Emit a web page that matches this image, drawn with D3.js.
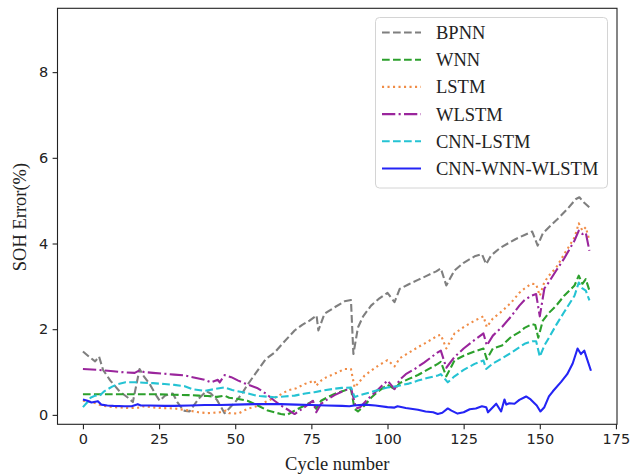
<!DOCTYPE html>
<html>
<head>
<meta charset="utf-8">
<script src="https://cdn.jsdelivr.net/npm/d3@7"></script>
<style>
  html, body { margin: 0; padding: 0; background: #fff; }
  svg { display: block; }
</style>
</head>
<body>
<svg id="chart" width="630" height="474"></svg>
<script>
// SOH estimation error per cycle for each model: [cycle, error %]
const bpnn = [[0,1.48],[2,1.36],[4,1.25],[5.3,1.36],[6.6,1.05],[9,0.8],[12,0.55],[14.8,0.4],[16.4,0.3],[18.6,1.07],[20,0.9],[21.9,0.72],[24.1,0.45],[25.2,0.33],[27,0.45],[29.5,0.5],[31,0.3],[33,0.1],[35,0.08],[38,0.38],[40.5,0.55],[42,0.5],[44,0.35],[46.5,0.04],[48,0.15],[50,0.3],[52,0.47],[54,0.7],[56.5,0.95],[60,1.3],[63,1.46],[66,1.7],[69.5,1.97],[72,2.1],[74.4,2.2],[76.7,2.32],[77.3,1.97],[79.3,2.36],[82.6,2.51],[85.9,2.65],[88,2.68],[88.8,1.42],[90.3,2.04],[92,2.3],[94.6,2.55],[97,2.7],[100,2.85],[102.3,2.63],[104,2.94],[107,3.05],[110,3.15],[113,3.25],[116,3.35],[117.5,3.42],[119.3,3.02],[122,3.37],[125,3.55],[128.6,3.7],[131,3.75],[132.4,3.52],[134,3.72],[137,3.9],[139.5,4.0],[142,4.1],[145,4.2],[147.5,4.28],[149.3,3.95],[151,4.24],[154,4.45],[156.4,4.61],[159,4.8],[161.9,5.04],[163,5.08],[164.6,4.95],[166.3,4.84]];
const wnn = [[0,0.48],[5,0.48],[10,0.48],[15,0.48],[20,0.48],[25,0.48],[30,0.47],[35,0.46],[38,0.45],[41,0.44],[44,0.42],[46.5,0.45],[48,0.4],[51,0.37],[54,0.33],[57.4,0.22],[60.7,0.1],[65,0.02],[67,0.0],[69.5,0.1],[72.8,0.22],[75.5,0.32],[76.6,0.14],[78.2,0.33],[80,0.4],[82.6,0.49],[85.9,0.57],[87.5,0.62],[88,0.6],[89.2,0.14],[90.3,0.08],[92.5,0.22],[94.6,0.4],[97,0.55],[100,0.7],[102.3,0.6],[104,0.74],[107,0.84],[110,0.93],[113,1.05],[116.5,1.19],[117.5,1.24],[119.3,0.9],[122,1.27],[125,1.38],[128.6,1.48],[131.5,1.55],[132.6,1.3],[134.6,1.55],[137.6,1.62],[140.6,1.82],[143.3,1.93],[145,2.03],[147.5,2.12],[148.5,2.1],[149.5,1.8],[151,2.2],[153,2.38],[155.4,2.55],[158,2.78],[161.4,3.02],[162.8,3.25],[164,3.06],[165.1,3.17],[166.3,2.9]];
const lstm = [[0,0.33],[3,0.3],[6,0.22],[10,0.18],[15,0.16],[19,0.17],[20,0.2],[25,0.16],[30,0.15],[35,0.1],[38,0.06],[41,0.04],[45,0.06],[47,0.1],[48,0.04],[51,0.03],[54,0.14],[57,0.2],[60.7,0.33],[63,0.4],[67.3,0.57],[70,0.62],[72.8,0.72],[76,0.8],[76.6,0.68],[78.2,0.8],[80,0.88],[82.6,0.96],[85.9,1.07],[88,1.07],[89.2,0.64],[92.5,0.92],[95,1.05],[97,1.15],[100,1.28],[102.3,1.13],[104,1.32],[107,1.45],[110,1.58],[113,1.7],[116.5,1.85],[117.5,1.87],[119.3,1.55],[122,1.9],[125,2.05],[128.6,2.2],[131.5,2.3],[132.6,2.05],[134.6,2.25],[137.6,2.42],[140.6,2.62],[143.3,2.85],[145,2.95],[147.2,3.06],[148.8,3.05],[150,2.78],[151.5,3.1],[153,3.25],[155.4,3.44],[158,3.75],[161.4,4.14],[162.8,4.47],[164,4.3],[165.1,4.38],[166.3,4.07]];
const wlstm = [[0,1.07],[5,1.05],[10,1.02],[13.7,0.99],[17,0.98],[18.6,1.04],[20,1.0],[23,0.98],[26.8,0.96],[30,0.94],[33.4,0.92],[36,0.88],[39.9,0.82],[42,0.76],[44.3,0.82],[44.9,0.76],[46.5,0.93],[48.7,0.88],[51,0.8],[53,0.74],[57.4,0.62],[60,0.5],[62.9,0.33],[65,0.22],[67.3,0.12],[69.5,0.02],[72.8,0.18],[75.5,0.33],[76.6,0.06],[78.2,0.26],[80,0.35],[82.6,0.46],[85.9,0.57],[88,0.63],[89.7,0.15],[91,0.18],[94,0.4],[97,0.6],[100,0.8],[102.3,0.6],[104,0.82],[106,0.95],[108.9,1.07],[112,1.22],[116.5,1.46],[117.5,1.5],[119.3,1.1],[122,1.35],[125,1.55],[128.6,1.75],[131.5,1.9],[132.6,1.62],[134.6,1.85],[137.6,2.05],[140.6,2.3],[143.3,2.55],[145,2.68],[147.2,2.78],[148.8,2.82],[150,2.3],[151.5,2.95],[153,3.1],[155.4,3.37],[158,3.65],[161.4,4.07],[162.8,4.3],[164,4.22],[165.1,4.25],[166.3,3.83]];
const cnnLstm = [[0,0.18],[1.5,0.3],[2.5,0.4],[4,0.45],[5.5,0.45],[7,0.55],[9.6,0.66],[11.5,0.72],[14,0.76],[17,0.76],[20,0.75],[23,0.74],[26.8,0.72],[30,0.7],[33.4,0.67],[36,0.6],[39.9,0.56],[43,0.6],[46.5,0.64],[49,0.58],[53,0.52],[56.4,0.46],[58,0.44],[62.9,0.41],[66,0.43],[69.5,0.45],[73,0.5],[76,0.53],[79,0.57],[82.6,0.61],[85,0.63],[88,0.64],[89.2,0.42],[92,0.48],[96,0.56],[100,0.64],[103,0.67],[107,0.73],[110,0.8],[113,0.86],[116.5,0.92],[117.5,0.95],[119.8,0.76],[122,0.9],[125,1.05],[128.6,1.19],[131.5,1.27],[132.4,1.07],[134.6,1.2],[137.6,1.32],[140.6,1.45],[143.3,1.58],[145,1.66],[147.5,1.72],[148.8,1.72],[150,1.36],[151.5,1.62],[153,1.8],[155.4,2.1],[158,2.4],[161.4,2.78],[162.8,3.09],[164,2.95],[165.1,2.9],[166.3,2.67]];
const cnnWnnWlstm = [[0,0.36],[1.5,0.33],[2.8,0.29],[4.9,0.32],[6,0.24],[8,0.22],[10,0.21],[13.7,0.2],[16,0.2],[18,0.25],[19,0.22],[22,0.22],[26.8,0.21],[30,0.21],[35,0.22],[40,0.23],[45,0.23],[50,0.24],[56.4,0.25],[60,0.25],[65,0.25],[70,0.24],[75,0.23],[80,0.22],[85,0.21],[87.5,0.2],[89,0.22],[92.5,0.24],[96,0.22],[100,0.18],[102.3,0.17],[103.3,0.2],[106,0.16],[110,0.12],[112.5,0.08],[115,0.06],[116.5,0.02],[118,0.05],[119.8,0.15],[121,0.1],[123,0.03],[125,0.06],[127,0.13],[129,0.15],[131,0.2],[132.4,0.18],[133,0.06],[135.7,0.26],[137.3,0.08],[138.4,0.36],[139,0.24],[140,0.27],[141.7,0.26],[143.3,0.35],[145.5,0.43],[147,0.36],[149,0.22],[150.2,0.08],[151.5,0.18],[153,0.43],[154.3,0.55],[157,0.77],[159,0.95],[160.8,1.2],[162.4,1.55],[163.5,1.42],[164.6,1.5],[166.8,1.03]];

const seriesNames = ["BPNN", "WNN", "LSTM", "WLSTM", "CNN-LSTM", "CNN-WNN-WLSTM"];
const xTicks = [0, 25, 50, 75, 100, 125, 150, 175];
const yTicks = [0, 2, 4, 6, 8];

const series = [
  { name: seriesNames[0], data: bpnn,        color: "#7f7f7f", dash: "7.7,3.3",          width: 2.1 },
  { name: seriesNames[1], data: wnn,         color: "#2ca02c", dash: "7.7,3.3",          width: 2.1 },
  { name: seriesNames[2], data: lstm,        color: "#f08c46", dash: "2.1,3.4",          width: 2.1 },
  { name: seriesNames[3], data: wlstm,       color: "#9a259c", dash: "13.3,3.3,2.1,3.3", width: 2.1 },
  { name: seriesNames[4], data: cnnLstm,     color: "#25c3d3", dash: "7.7,3.3",          width: 2.1 },
  { name: seriesNames[5], data: cnnWnnWlstm, color: "#2424f5", dash: null,               width: 2.1 }
];

const svg = d3.select("#chart");
const plot = { left: 57.5, right: 617, top: 8.3, bottom: 424.3 };

const x = d3.scaleLinear().domain([-8.35, 175.35]).range([plot.left, plot.right]);
const y = d3.scaleLinear().domain([-0.22, 9.49]).range([plot.bottom, plot.top]);

svg.append("defs").append("clipPath").attr("id", "plot-clip")
  .append("rect")
  .attr("x", plot.left).attr("y", plot.top)
  .attr("width", plot.right - plot.left).attr("height", plot.bottom - plot.top);

// lines
const line = d3.line().x(d => x(d[0])).y(d => y(d[1]));
const lines = svg.append("g").attr("clip-path", "url(#plot-clip)");
series.forEach(s => {
  lines.append("path")
    .datum(s.data)
    .attr("d", line)
    .attr("fill", "none")
    .attr("stroke", s.color)
    .attr("stroke-width", s.width)
    .attr("stroke-dasharray", s.dash)
    .attr("stroke-linejoin", "round");
});

// axes
const tickFont = "DejaVu Sans, sans-serif";
const xAxis = svg.append("g")
  .attr("transform", `translate(0,${plot.bottom})`)
  .call(d3.axisBottom(x).tickValues(xTicks).tickSize(4.9).tickPadding(4.5));
const yAxis = svg.append("g")
  .attr("transform", `translate(${plot.left},0)`)
  .call(d3.axisLeft(y).tickValues(yTicks).tickSize(4.9).tickPadding(4.5));
[xAxis, yAxis].forEach(a => {
  a.select(".domain").remove();
  a.selectAll(".tick line").attr("stroke", "#222").attr("stroke-width", 1.1);
  a.selectAll(".tick text").attr("fill", "#222")
    .style("font-family", tickFont).style("font-size", "14.5px");
});

// frame
svg.append("rect")
  .attr("x", plot.left).attr("y", plot.top)
  .attr("width", plot.right - plot.left).attr("height", plot.bottom - plot.top)
  .attr("fill", "none").attr("stroke", "#222").attr("stroke-width", 1.1);

// axis titles
const titleFont = "Liberation Serif, Times New Roman, serif";
svg.append("text")
  .attr("x", (plot.left + plot.right) / 2).attr("y", 470)
  .attr("text-anchor", "middle")
  .style("font-family", titleFont).style("font-size", "18.5px").attr("fill", "#222")
  .text("Cycle number");
svg.append("text")
  .attr("transform", "translate(26,217) rotate(-90)")
  .attr("text-anchor", "middle")
  .style("font-family", titleFont).style("font-size", "18.5px").attr("fill", "#222")
  .text("SOH Error(%)");

// legend
const legend = svg.append("g");
legend.append("rect")
  .attr("x", 375.5).attr("y", 17.5).attr("width", 232).attr("height", 170.5)
  .attr("rx", 4).attr("ry", 4)
  .attr("fill", "#fff").attr("fill-opacity", 0.8)
  .attr("stroke", "#d4d4d4").attr("stroke-width", 1);
series.forEach((s, i) => {
  const base = 39 + i * 27.2;
  legend.append("line")
    .attr("x1", 382).attr("x2", 421)
    .attr("y1", base - 6.5).attr("y2", base - 6.5)
    .attr("stroke", s.color).attr("stroke-width", s.width)
    .attr("stroke-dasharray", s.dash);
  legend.append("text")
    .attr("x", 436).attr("y", base)
    .style("font-family", titleFont).style("font-size", "18.5px").attr("fill", "#222")
    .text(s.name);
});
</script>
</body>
</html>
